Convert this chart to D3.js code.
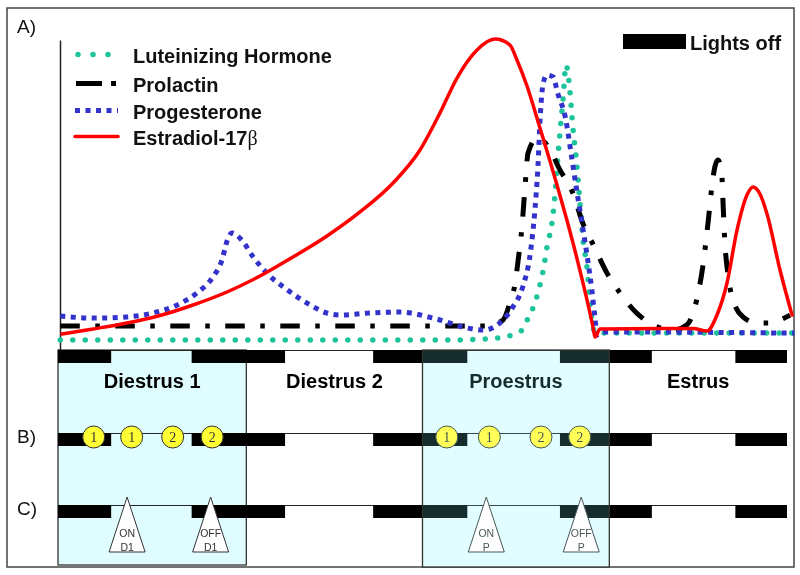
<!DOCTYPE html>
<html><head><meta charset="utf-8">
<script src="https://cdn.jsdelivr.net/npm/d3@7"></script>
<style>body{margin:0;background:#fff}svg{display:block}</style>
</head><body>
<script>
// ---- data (x in hours of the 4-day cycle, y in relative units 0-100) ----
const dayNames = ["Diestrus 1", "Diestrus 2", "Proestrus", "Estrus"];
const dayBounds = [0, 24.8, 48.0, 72.6, 96];
const boxedDays = [0, 2];
const lightsOff = [[0, 7.0], [17.6, 29.9], [41.5, 53.9], [66.1, 78.2], [89.2, 96]];
const sampleTimes = [4.7, 9.7, 15.1, 20.3, 51.2, 56.8, 63.6, 68.7];
const sampleLabels = ["1", "1", "2", "2", "1", "1", "2", "2"];
const pulseTimes = [9.1, 20.1, 56.4, 68.9];
const pulseLabels = [["ON", "D1"], ["OFF", "D1"], ["ON", "P"], ["OFF", "P"]];
const seriesNames = ["Luteinizing Hormone", "Prolactin", "Progesterone", "Estradiol-17"];

const lhData = [[0.3,0],[51.6,0],[58.2,0.7],[59.8,1.7],[61.1,3.3],[61.9,7.3],[62.6,11],[63.2,15.7],[63.9,23.3],[64.4,31],[65.1,40],[65.5,50],[65.8,60],[66.1,69],[66.5,80],[66.9,91.7],[67.4,83.3],[67.8,71],[68.3,59],[68.7,46.7],[69.1,34.3],[69.7,23.3],[70.1,11],[70.7,2.7],[72,2.3],[96.9,2.3]];
const prlData = [[0.3,4.7],[56.5,4.7],[58.6,6.7],[59.5,12.3],[60.2,19],[60.6,26.7],[61.1,37.7],[61.5,51],[61.9,62.3],[63.1,67.3],[64.4,65],[66.1,56.7],[67.8,49],[69.1,39],[70.5,31.7],[72.3,22.3],[74.0,15.7],[76.2,9],[78.4,5],[81.0,3.3],[82.8,5],[84.1,13.3],[84.9,24.3],[85.6,39],[86.1,51],[86.5,57.7],[86.9,60],[87.4,55.7],[87.6,44.3],[87.8,33.3],[88.2,22.3],[88.9,13.3],[90.2,7.7],[92.0,5.7],[93.5,5.7],[96.4,8.3]];
const progData = [[0.3,8],[4.6,7.3],[9.1,7.7],[12.5,9],[15.7,11.7],[18.3,15.7],[20.4,21],[21.6,26.7],[22.3,33.3],[22.9,35.7],[24.2,33.3],[25.7,27.7],[27.5,22.3],[30.2,16.7],[32.8,12.3],[35.4,9],[37.1,8.3],[41,9],[45.0,9.3],[49.4,7.3],[53.9,4],[56.0,3.3],[58.2,5.7],[59.9,11],[61.2,17.7],[62.2,29],[62.8,43.3],[63.2,57.7],[63.5,74.3],[63.9,85.7],[64.4,88.3],[65.2,87.7],[65.8,82.3],[66.8,74.3],[67.7,60],[68.3,50],[69.0,39],[69.7,27.7],[70.3,16.7],[70.7,7.7],[71.0,1.7],[71.8,2.7],[97.0,2.3]];
const estData = [[0.53,2.0],[4.61,3.67],[9.09,5.67],[13.43,8.17],[17.78,11.67],[22.26,16.0],[26.6,21.33],[30.95,27.67],[35.42,34.67],[39.77,42.67],[44.12,52.33],[47.67,63.33],[50.3,75.67],[52.54,87.33],[55.18,96.67],[57.55,100.3],[59.52,98.33],[60.44,93.33],[61.76,84.67],[63.47,70.67],[65.71,51.67],[67.82,32.33],[70.45,4.33],[70.72,1.0],[71.37,3.67],[79.27,3.83],[83.62,3.83],[85.47,3.0],[86.78,8.33],[88.1,19],[89.42,36.67],[90.73,48.33],[91.52,51],[92.44,48.67],[93.37,42],[95.08,23.33],[96.66,8.33]];

// ---- drawing ----
const W = 800, H = 575;
const FONT = "'Liberation Sans', Arial, Helvetica, sans-serif";
const SERIF = "'Liberation Serif', 'Times New Roman', serif";
const svg = d3.select("body").append("svg").attr("width", W).attr("height", H);

const x = d3.scaleLinear().domain([0, 96]).range([58, 787]);
const y = d3.scaleLinear().domain([-10/3, 100]).range([350, 40]);

const rowTops = [350, 433, 505];
const barH = 13;
const boxBottom = [565, 567];
const BOXFILL = "#dffcff";

// outer frame
svg.append("rect").attr("x", 7).attr("y", 8).attr("width", 787).attr("height", 559)
  .attr("fill", "#fff").attr("stroke", "#444").attr("stroke-width", 1.5);

// day boxes (fill)
boxedDays.forEach((d, i) => {
  svg.append("rect").attr("x", x(dayBounds[d])).attr("y", rowTops[0])
    .attr("width", x(dayBounds[d + 1]) - x(dayBounds[d]))
    .attr("height", boxBottom[i] - rowTops[0])
    .attr("fill", BOXFILL).attr("stroke", i === 0 ? "#333" : "none").attr("stroke-width", 1.3);
});

// rows of light/dark bars
rowTops.forEach(t => {
  svg.append("line").attr("x1", x(0)).attr("x2", x(96)).attr("y1", t + 0.5).attr("y2", t + 0.5)
    .attr("stroke", "#222").attr("stroke-width", 1);
  svg.append("g").selectAll("rect").data(lightsOff).join("rect")
    .attr("x", d => x(d[0])).attr("width", d => x(d[1]) - x(d[0]))
    .attr("y", t).attr("height", barH).attr("fill", "#000");
});

// day labels
svg.append("g").selectAll("text").data(dayNames).join("text")
  .attr("x", (d, i) => (x(dayBounds[i]) + x(dayBounds[i + 1])) / 2)
  .attr("y", 388).attr("text-anchor", "middle")
  .attr("font-family", FONT).attr("font-weight", "bold").attr("font-size", 20)
  .attr("fill", "#000").text(d => d);

// row B sample circles
const gs = svg.append("g").selectAll("g").data(sampleTimes).join("g")
  .attr("transform", d => `translate(${x(d)},437)`);
gs.append("circle").attr("r", 11).attr("fill", "#ffff33").attr("stroke", "#333").attr("stroke-width", 1);
gs.append("text").attr("y", 5).attr("text-anchor", "middle").attr("font-family", SERIF)
  .attr("font-size", 14).attr("fill", "#333").text((d, i) => sampleLabels[i]);

// row C triangles
const gt = svg.append("g").selectAll("g").data(pulseTimes).join("g")
  .attr("transform", d => `translate(${x(d)},0)`);
gt.append("path").attr("d", "M0,497L18,552L-18,552Z").attr("fill", "#fff")
  .attr("stroke", "#333").attr("stroke-width", 1);
gt.append("text").attr("y", 537).attr("text-anchor", "middle").attr("font-family", FONT)
  .attr("font-size", 10.5).attr("fill", "#333").text((d, i) => pulseLabels[i][0]);
gt.append("text").attr("y", 551).attr("text-anchor", "middle").attr("font-family", FONT)
  .attr("font-size", 10.5).attr("fill", "#333").text((d, i) => pulseLabels[i][1]);

// proestrus overlay (tints dark marks inside the box)
{
  const d = boxedDays[1];
  svg.append("rect").attr("x", x(dayBounds[d])).attr("y", rowTops[0])
    .attr("width", x(dayBounds[d + 1]) - x(dayBounds[d]))
    .attr("height", boxBottom[1] - rowTops[0])
    .attr("fill", "#172d2d").style("mix-blend-mode", "screen");
  svg.append("rect").attr("x", x(dayBounds[d])).attr("y", rowTops[0])
    .attr("width", x(dayBounds[d + 1]) - x(dayBounds[d]))
    .attr("height", boxBottom[1] - rowTops[0])
    .attr("fill", "none").attr("stroke", "#333").attr("stroke-width", 1.3);
}

// y axis
svg.append("g").attr("transform", "translate(60,0)")
  .call(d3.axisLeft(y).tickValues([]).tickSizeOuter(0))
  .call(g => g.select(".domain").attr("stroke", "#222").attr("stroke-width", 1.5));

// series
const styles = [
  {data: lhData,   color: "#1dc49b", width: 5.5, dash: "0 12.5", cap: "round"},
  {data: prlData,  color: "#000",    width: 5,   dash: "19.5 15.5 4.5 15.5", cap: "butt"},
  {data: progData, color: "#3333cc", width: 5,   dash: "5 5.5", cap: "butt"},
  {data: estData,  color: "#ff0000", width: 3.5, dash: null, cap: "round"}
];
const line = d3.line().x(d => x(d[0])).y(d => y(d[1])).curve(d3.curveMonotoneX);
styles.forEach(s => {
  svg.append("path").attr("d", line(s.data)).attr("fill", "none")
    .attr("stroke", s.color).attr("stroke-width", s.width)
    .attr("stroke-dasharray", s.dash).attr("stroke-linecap", s.cap)
    .attr("stroke-linejoin", "round");
});

// legend
const legY = [63, 92, 119, 145];
const legDash = ["0 15", "26 9 5 100", "5 5.5", null];
const legX = [[78, 109], [76, 116], [75, 118], [75, 118]];
styles.forEach((s, i) => {
  svg.append("line").attr("x1", legX[i][0]).attr("x2", legX[i][1])
    .attr("y1", legY[i] - 8.5).attr("y2", legY[i] - 8.5)
    .attr("stroke", s.color).attr("stroke-width", s.width)
    .attr("stroke-dasharray", legDash[i]).attr("stroke-linecap", s.cap);
  const t = svg.append("text").attr("x", 133).attr("y", legY[i])
    .attr("font-family", FONT).attr("font-weight", "bold").attr("font-size", 20)
    .attr("fill", "#111").text(seriesNames[i]);
  if (i === 3) t.append("tspan").attr("font-family", SERIF).attr("font-weight", "normal").text("β");
});

// lights off legend
svg.append("rect").attr("x", 623).attr("y", 34).attr("width", 63).attr("height", 15).attr("fill", "#000");
svg.append("text").attr("x", 690).attr("y", 50).attr("font-family", FONT).attr("font-weight", "bold")
  .attr("font-size", 20).attr("fill", "#111").text("Lights off");

// panel letters
[["A)", 33], ["B)", 443], ["C)", 515]].forEach(([t, yy]) => {
  svg.append("text").attr("x", 17).attr("y", yy).attr("font-family", FONT)
    .attr("font-size", 19).attr("fill", "#111").text(t);
});
</script>
</body></html>
